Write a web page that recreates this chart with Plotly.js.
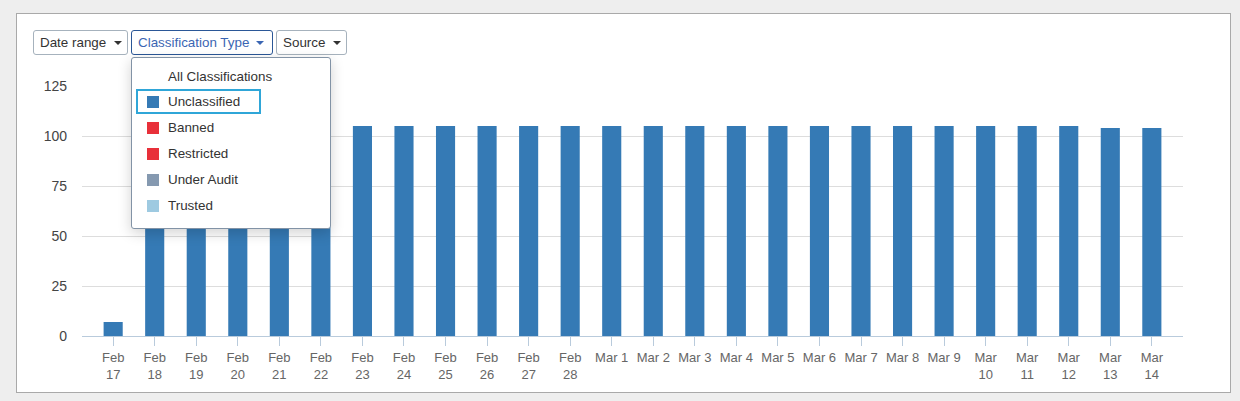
<!DOCTYPE html>
<html>
<head>
<meta charset="utf-8">
<script src="https://cdn.plot.ly/plotly-3.0.1.min.js"></script>
<style>
  html, body { margin:0; padding:0; background:#eeeeee; width:1240px; height:401px; overflow:hidden;
    font-family:"Liberation Sans", Arial, Helvetica, sans-serif; }
  #panel { position:absolute; left:16px; top:13px; width:1213px; height:378px; background:#fff; border:1px solid #a9a9a9; }
  #chart { position:absolute; left:0; top:0; width:1240px; height:401px; }
  .btn { position:absolute; top:30px; height:23px; border:1px solid #a6b2bd; border-radius:3px; background:#fff;
    font-size:13.4px; color:#333; line-height:23px; padding-left:6px; box-sizing:content-box; }
  .btn .caret { position:absolute; top:10px; width:0; height:0; border-left:4px solid transparent; border-right:4px solid transparent; border-top:4px solid #333; }
  #menu { position:absolute; left:131px; top:57px; width:198px; height:170px; background:#fff; border:1px solid #8293a6;
    border-radius:3px; box-shadow:0 4px 14px rgba(0,0,0,0.18); font-size:13.4px; color:#333; }
  .row { position:absolute; left:36px; height:16px; line-height:16px; }
  .sw { position:absolute; left:15px; width:12px; height:12px; }
  #hl { position:absolute; left:4px; top:31px; width:121px; height:21px; border:2px solid #2fa6d8; }
</style>
</head>
<body>
<div id="panel"></div>
<div id="chart"></div>
<div class="btn" style="left:33px;width:87px;">Date range<span class="caret" style="left:80px"></span></div>
<div class="btn" style="left:131px;width:134px;border-color:#2b5797;color:#3b66b3;">Classification Type<span class="caret" style="left:124px;border-top-color:#3b66b3"></span></div>
<div class="btn" style="left:276px;width:63px;">Source<span class="caret" style="left:56px"></span></div>
<div id="menu"></div>
<script>
// ---- data ----
const categories = ["2024-02-17","2024-02-18","2024-02-19","2024-02-20","2024-02-21","2024-02-22","2024-02-23","2024-02-24","2024-02-25","2024-02-26","2024-02-27","2024-02-28","2024-03-01","2024-03-02","2024-03-03","2024-03-04","2024-03-05","2024-03-06","2024-03-07","2024-03-08","2024-03-09","2024-03-10","2024-03-11","2024-03-12","2024-03-13","2024-03-14"];
const tickLabels = ["Feb<br>17","Feb<br>18","Feb<br>19","Feb<br>20","Feb<br>21","Feb<br>22","Feb<br>23","Feb<br>24","Feb<br>25","Feb<br>26","Feb<br>27","Feb<br>28","Mar 1","Mar 2","Mar 3","Mar 4","Mar 5","Mar 6","Mar 7","Mar 8","Mar 9","Mar<br>10","Mar<br>11","Mar<br>12","Mar<br>13","Mar<br>14"];
const unclassified = [7,105,105,105,105,105,105,105,105,105,105,105,105,105,105,105,105,105,105,105,105,105,105,105,104,104];
const yTicks = [0,25,50,75,100,125];
const menuTitle = "All Classifications";
const classNames = ["Unclassified","Banned","Restricted","Under Audit","Trusted"];
const classColors = ["#357ab5","#e8303a","#e8303a","#8599b0","#9ecae1"];

// ---- chart ----
const trace = {
  type:"bar", x:categories, y:unclassified, marker:{color:classColors[0]},
  name:classNames[0], hoverinfo:"x+y"
};
const layout = {
  width:1240, height:401,
  margin:{l:82, r:57, t:86, b:65},
  paper_bgcolor:"rgba(0,0,0,0)", plot_bgcolor:"rgba(0,0,0,0)",
  showlegend:false, bargap:0.54,
  font:{family:"Liberation Sans, Arial, sans-serif", size:13, color:"#444"},
  xaxis:{type:"category", range:[-0.75,25.75], tickmode:"array", tickvals:categories, ticktext:tickLabels,
    showline:true, linecolor:"#b9cbdc", linewidth:1, ticks:"outside", ticklen:9, tickcolor:"#b9cbdc",
    showgrid:false, tickfont:{size:13,color:"#666"}, fixedrange:true},
  yaxis:{range:[0,125], tickmode:"array", tickvals:yTicks, showgrid:true, gridcolor:"#dddddd", zeroline:false,
    ticks:"", ticklabelstandoff:14, tickfont:{size:14,color:"#444"}, fixedrange:true}
};
Plotly.newPlot("chart",[trace],layout,{displayModeBar:false, staticPlot:true});

// ---- menu (classification dropdown) ----
const menu = document.getElementById("menu");
let html = '<div class="row" style="top:11px">'+menuTitle+'</div><div id="hl"></div>';
classNames.forEach((n,i)=>{
  const cy = 44 + i*26;
  html += '<div class="sw" style="top:'+(cy-6)+'px;background:'+classColors[i]+'"></div>';
  html += '<div class="row" style="top:'+(cy-8)+'px">'+n+'</div>';
});
menu.innerHTML = html;
</script>
</body>
</html>
